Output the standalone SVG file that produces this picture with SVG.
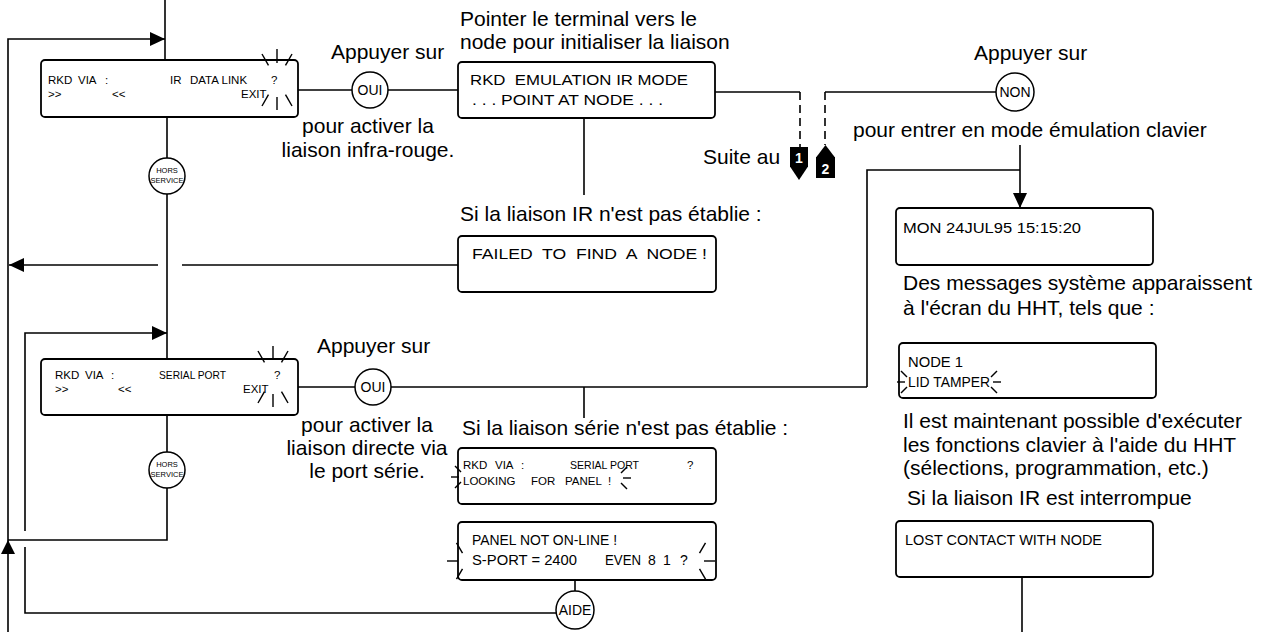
<svg xmlns="http://www.w3.org/2000/svg" width="1272" height="632" viewBox="0 0 1272 632">
<style>
.ln{fill:none;stroke:#000;stroke-width:1.6}
.ds{fill:none;stroke:#000;stroke-width:1.6;stroke-dasharray:8 5}
.bx{fill:#fff;stroke:#000;stroke-width:1.8}
.ci{fill:#fff;stroke:#000;stroke-width:1.5}
.t{font-family:"Liberation Sans",Arial,sans-serif;font-size:21px;fill:#000}
.lcd{font-family:"Liberation Sans",Arial,sans-serif;font-size:14px;fill:#000}
.sm{font-family:"Liberation Sans",Arial,sans-serif;font-size:11.5px;fill:#000}
.ct{font-family:"Liberation Sans",Arial,sans-serif;font-size:14px;fill:#000;text-anchor:middle}
.hs{font-family:"Liberation Sans",Arial,sans-serif;font-size:7.5px;fill:#000;text-anchor:middle}
.mk{font-family:"Liberation Sans",Arial,sans-serif;font-size:14px;font-weight:bold;fill:#fff;text-anchor:middle}
.fl{stroke:#000;stroke-width:1.4;fill:none}
</style>
<defs>
<marker id="arr" markerUnits="userSpaceOnUse" markerWidth="15" markerHeight="14" refX="15" refY="7" orient="auto">
<path d="M0,0 L15,7 L0,14 z" fill="#000"/>
</marker>
<g id="b6" class="fl">
<line x1="0" y1="-17" x2="0" y2="-31"/><line x1="-8.5" y1="-14.7" x2="-15" y2="-26"/><line x1="8.5" y1="-14.7" x2="15" y2="-26"/>
<line x1="0" y1="17" x2="0" y2="30"/><line x1="-8.5" y1="14.7" x2="-15" y2="26"/><line x1="8.5" y1="14.7" x2="15" y2="26"/>
</g>
<g id="sL" class="fl"><line x1="-7" y1="0" x2="-15" y2="0"/><line x1="-5" y1="-5" x2="-11" y2="-11"/><line x1="-5" y1="5" x2="-11" y2="11"/></g>
<g id="sR" class="fl"><line x1="7" y1="0" x2="15" y2="0"/><line x1="5" y1="-5" x2="11" y2="-11"/><line x1="5" y1="5" x2="11" y2="11"/></g>
<g id="pL" class="fl"><line x1="-9" y1="0" x2="-20" y2="0"/><line x1="-4.5" y1="-7.8" x2="-10.5" y2="-18.2"/><line x1="-4.5" y1="7.8" x2="-10.5" y2="18.2"/></g>
<g id="pR" class="fl"><line x1="9" y1="0" x2="20" y2="0"/><line x1="4.5" y1="-7.8" x2="10.5" y2="-18.2"/><line x1="4.5" y1="7.8" x2="10.5" y2="18.2"/></g>
</defs>
<rect width="1272" height="632" fill="#fff"/>

<g id="connectors">
<path class="ln" d="M8,632 V39 H165" marker-end="url(#arr)"/>
<path class="ln" d="M165,0 V60"/>
<path class="ln" d="M167,117 V359"/>
<path class="ln" d="M25,531 V333 H167" marker-end="url(#arr)"/>
<path class="ln" d="M25,547 V613 H556"/>
<path class="ln" d="M167,415 V540 H8"/>
<polygon points="8,540 1,554 15,554" fill="#000"/>
<path class="ln" d="M298,90 H458"/>
<path class="ln" d="M715,92 H800"/>
<path class="ds" d="M800,92 V147"/>
<path class="ln" d="M825,92 H996"/>
<path class="ds" d="M825,92 V145"/>
<path class="ln" d="M584,118 V195"/>
<path class="ln" d="M458,265 H182"/>
<path class="ln" d="M158,265 H9" marker-end="url(#arr)"/>
<path class="ln" d="M1020,145 V208" marker-end="url(#arr)"/>
<path class="ln" d="M867,387 V170 H1020"/>
<path class="ln" d="M298,387 H867"/>
<path class="ln" d="M584,387 V418"/>
<path class="ln" d="M575,580 V591"/>
<path class="ln" d="M1022,577 V632"/>
</g>

<g id="box-ir">
<rect class="bx" x="41" y="60" width="257" height="57" rx="4"/>
<text class="sm" x="48" y="84">RKD</text><text class="sm" x="78" y="84">VIA</text><text class="sm" x="105" y="84">:</text>
<text class="sm" x="170" y="84">IR</text><text class="sm" x="190" y="84">DATA LINK</text><text class="sm" x="271" y="84">?</text>
<text class="sm" x="48" y="98">&gt;&gt;</text><text class="sm" x="112" y="98">&lt;&lt;</text><text class="sm" x="241" y="98">EXIT</text>
<use href="#b6" x="277" y="80"/>
</g>

<g id="oui-1">
<circle class="ci" cx="370" cy="90" r="18"/>
<text class="ct" x="370" y="95" font-size="15">OUI</text>
<text class="t" x="331" y="59">Appuyer sur</text>
<text class="t" x="368" y="133" text-anchor="middle">pour activer la</text>
<text class="t" x="368" y="157" text-anchor="middle">liaison infra-rouge.</text>
</g>

<g id="box-emulation">
<text class="t" x="460" y="26">Pointer le terminal vers le</text>
<text class="t" x="460" y="49">node pour initialiser la liaison</text>
<rect class="bx" x="458" y="62" width="257" height="56" rx="4"/>
<text class="lcd" x="470" y="85" textLength="218" lengthAdjust="spacingAndGlyphs" xml:space="preserve">RKD  EMULATION IR MODE</text>
<text class="lcd" x="472" y="105" textLength="191" lengthAdjust="spacingAndGlyphs" xml:space="preserve">. . . POINT AT NODE . . .</text>
</g>

<g id="suite">
<text class="t" x="703" y="164">Suite au</text>
<rect x="790" y="147" width="18" height="20" fill="#000"/>
<polygon points="790,166.5 808,166.5 799,180" fill="#000"/>
<text class="mk" x="799" y="163">1</text>
<polygon points="816,157.5 835,157.5 825.5,145" fill="#000"/>
<rect x="816" y="157" width="19" height="21" fill="#000"/>
<text class="mk" x="825.5" y="174">2</text>
</g>

<g id="non">
<text class="t" x="974" y="60">Appuyer sur</text>
<circle class="ci" cx="1015" cy="92" r="19"/>
<text class="ct" x="1015" y="97" font-size="13">NON</text>
<text class="t" x="853" y="137">pour entrer en mode émulation clavier</text>
</g>

<g id="hors-1">
<circle class="ci" cx="167" cy="176" r="18"/>
<text class="hs" x="167" y="173">HORS</text>
<text class="hs" x="167" y="183">SERVICE</text>
</g>

<g id="box-failed">
<text class="t" x="460" y="221">Si la liaison IR n'est pas établie :</text>
<rect class="bx" x="458" y="236" width="258" height="56" rx="4"/>
<text class="lcd" x="472" y="259" font-size="12.5" textLength="235" lengthAdjust="spacingAndGlyphs" xml:space="preserve">FAILED  TO  FIND  A  NODE !</text>
</g>

<g id="box-mon">
<rect class="bx" x="896" y="208" width="257" height="57" rx="4"/>
<text class="lcd" x="903" y="233" textLength="178" lengthAdjust="spacingAndGlyphs">MON 24JUL95 15:15:20</text>
<text class="t" x="903" y="290">Des messages système apparaissent</text>
<text class="t" x="903" y="315">à l'écran du HHT, tels que :</text>
</g>

<g id="box-node">
<rect class="bx" x="899" y="343" width="257" height="55" rx="4"/>
<text class="lcd" x="908" y="367" textLength="55" lengthAdjust="spacingAndGlyphs">NODE 1</text>
<text class="lcd" x="908" y="387" textLength="82" lengthAdjust="spacingAndGlyphs">LID TAMPER</text>
<use href="#sL" x="912" y="382"/>
<use href="#sR" x="986" y="382"/>
<text class="t" x="903" y="428">Il est maintenant possible d'exécuter</text>
<text class="t" x="903" y="452">les fonctions clavier à l'aide du HHT</text>
<text class="t" x="903" y="475">(sélections, programmation, etc.)</text>
</g>

<g id="box-lost">
<text class="t" x="907" y="505">Si la liaison IR est interrompue</text>
<rect class="bx" x="896" y="521" width="257" height="56" rx="4"/>
<text class="lcd" x="905" y="545" textLength="197" lengthAdjust="spacingAndGlyphs">LOST CONTACT WITH NODE</text>
</g>

<g id="box-serial">
<rect class="bx" x="41" y="359" width="257" height="56" rx="4"/>
<text class="sm" x="55" y="379">RKD</text><text class="sm" x="85" y="379">VIA</text><text class="sm" x="111" y="379">:</text>
<text class="sm" x="159" y="379" textLength="67" lengthAdjust="spacingAndGlyphs">SERIAL PORT</text><text class="sm" x="274" y="379">?</text>
<text class="sm" x="55" y="393">&gt;&gt;</text><text class="sm" x="118" y="393">&lt;&lt;</text><text class="sm" x="243" y="393">EXIT</text>
<use href="#b6" x="273" y="377"/>
</g>

<g id="oui-2">
<text class="t" x="317" y="353">Appuyer sur</text>
<circle class="ci" cx="373" cy="387" r="18"/>
<text class="ct" x="373" y="392" font-size="15">OUI</text>
<text class="t" x="367" y="432" text-anchor="middle">pour activer la</text>
<text class="t" x="367" y="455" text-anchor="middle">liaison directe via</text>
<text class="t" x="367" y="478" text-anchor="middle">le port série.</text>
</g>

<g id="hors-2">
<circle class="ci" cx="167" cy="470" r="18"/>
<text class="hs" x="167" y="467">HORS</text>
<text class="hs" x="167" y="477">SERVICE</text>
</g>

<g id="box-looking">
<text class="t" x="462" y="435">Si la liaison série n'est pas établie :</text>
<rect class="bx" x="458" y="448" width="258" height="56" rx="4"/>
<text class="sm" x="463" y="469">RKD</text><text class="sm" x="495" y="469">VIA</text><text class="sm" x="521" y="469">:</text>
<text class="sm" x="570" y="469" textLength="69" lengthAdjust="spacingAndGlyphs">SERIAL PORT</text><text class="sm" x="687" y="469">?</text>
<text class="sm" x="463" y="485">LOOKING</text><text class="sm" x="531" y="485">FOR</text><text class="sm" x="565" y="485">PANEL</text><text class="sm" x="608" y="485">!</text>
<use href="#sL" x="466" y="477"/>
<use href="#sR" x="616" y="478"/>
</g>

<g id="box-panel">
<rect class="bx" x="458" y="522" width="258" height="58" rx="4"/>
<text class="lcd" x="472" y="545" textLength="145" lengthAdjust="spacingAndGlyphs">PANEL NOT ON-LINE !</text>
<text class="lcd" x="472" y="565" textLength="105" lengthAdjust="spacingAndGlyphs">S-PORT = 2400</text>
<text class="lcd" x="605" y="565" textLength="36" lengthAdjust="spacingAndGlyphs">EVEN</text>
<text class="lcd" x="648" y="565">8</text>
<text class="lcd" x="663" y="565">1</text>
<text class="lcd" x="680" y="565">?</text>
<use href="#pL" x="467" y="561"/>
<use href="#pR" x="695" y="561"/>
</g>

<g id="aide">
<circle class="ci" cx="575" cy="610" r="19"/>
<text class="ct" x="575" y="615" font-size="13">AIDE</text>
</g>
</svg>
